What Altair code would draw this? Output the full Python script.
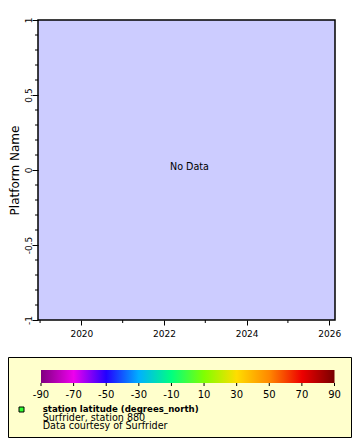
import altair as alt
import pandas as pd

# ---- data ----
x_major = [2020, 2022, 2024, 2026]
x_minor = [2019, 2021, 2023, 2025]
x_domain = [2018.95, 2026.14]
y_major = [-1, -0.5, 0, 0.5, 1]
y_minor = [-0.9, -0.8, -0.7, -0.6, -0.4, -0.3, -0.2, -0.1,
           0.1, 0.2, 0.3, 0.4, 0.6, 0.7, 0.8, 0.9]
y_domain = [-1, 1]
y_title = "Platform Name"
no_data = "No Data"

cbar_stops = [-90, -70, -50, -30, -10, 10, 30, 50, 70, 90]
cbar_colors = ["#800080", "#ee00ee", "#2200ff", "#00b0ff", "#00ff80",
               "#80ff00", "#ffdd00", "#ff8800", "#ee0000", "#780000"]
legend_title = "station latitude (degrees_north)"
legend_lines = ["Surfrider, station 880", "Data courtesy of Surfrider"]

FONT = "DejaVu Sans"
W, H = 297, 300

x_scale = alt.Scale(domain=x_domain, nice=False, zero=False)
y_scale = alt.Scale(domain=y_domain, nice=False, zero=False)

# ---- main plot ----
x_ticks = alt.Chart(pd.DataFrame({"year": x_minor})).mark_rule(color="black", strokeWidth=1).encode(
    x=alt.X("year:Q", scale=x_scale,
            axis=alt.Axis(values=x_major, labelExpr="'' + datum.value", tickSize=5,
                          labelPadding=4, labelFontSize=9, labelFlush=False,
                          labelOverlap=False, title=None, labelBaseline="top")),
    y=alt.value(H), y2=alt.value(H + 3),
)

y_ticks = alt.Chart(pd.DataFrame({"v": y_minor})).mark_rule(color="black", strokeWidth=1).encode(
    y=alt.Y("v:Q", scale=y_scale,
            axis=alt.Axis(values=y_major, labelExpr="'' + datum.value", labelAngle=270,
                          labelAlign="center", labelBaseline="alphabetic", labelPadding=1,
                          tickSize=6, labelFontSize=9, labelFlush=False, labelOverlap=False,
                          title=y_title, titleFontSize=12, titleFontWeight="normal",
                          titleAngle=270, titleX=-19.5, titleY=H / 2, titleAlign="center",
                          titleBaseline="alphabetic")),
    x=alt.value(0), x2=alt.value(-3),
)

nodata = alt.Chart(pd.DataFrame({"t": [no_data]})).mark_text(
    fontSize=9.6, font=FONT, color="black", align="center", baseline="alphabetic"
).encode(text="t:N", x=alt.value(151.5), y=alt.value(149.5))

main = alt.layer(x_ticks, y_ticks, nodata)

# ---- colour-bar legend panel ----
cb_scale = alt.Scale(domain=[cbar_stops[0], cbar_stops[-1]], range=[3, 296.5], nice=False, zero=False)

box = alt.Chart(pd.DataFrame({"a": [0]})).mark_rect(
    fill="#ffffcc", stroke="black", strokeWidth=1
).encode(x=alt.value(-29.5), x2=alt.value(313.5), y=alt.value(337.5), y2=alt.value(417.5))

grad = alt.LinearGradient(
    gradient="linear", x1=0, x2=1, y1=0, y2=0,
    stops=[alt.GradientStop(color=c, offset=(v - cbar_stops[0]) / (cbar_stops[-1] - cbar_stops[0]))
           for v, c in zip(cbar_stops, cbar_colors)],
)
cbar = alt.Chart(pd.DataFrame({"lo": [cbar_stops[0]], "hi": [cbar_stops[-1]]})).mark_rect(
    color=grad
).encode(x=alt.X("lo:Q", scale=cb_scale, axis=None), x2="hi:Q",
         y=alt.value(350), y2=alt.value(363))

stops_df = pd.DataFrame({"v": cbar_stops})
cb_ticks = alt.Chart(stops_df).mark_rule(color="black", strokeWidth=1).encode(
    x=alt.X("v:Q", scale=cb_scale, axis=None), y=alt.value(363), y2=alt.value(366))
cb_labels = alt.Chart(stops_df).transform_calculate(lab="'' + datum.v").mark_text(
    fontSize=10, font=FONT, color="black", align="center", baseline="alphabetic"
).encode(x=alt.X("v:Q", scale=cb_scale, axis=None), y=alt.value(377.5), text="lab:N")

marker = alt.Chart(pd.DataFrame({"a": [0]})).mark_point(
    shape="square", filled=True, fill="#33ff33", stroke="black", strokeWidth=1, size=25, opacity=1
).encode(x=alt.value(-16.5), y=alt.value(389.5))

t_title = alt.Chart(pd.DataFrame({"t": [legend_title]})).mark_text(
    fontSize=8.6, font=FONT, fontWeight="bold", color="black", align="left", baseline="alphabetic"
).encode(text="t:N", x=alt.value(4.7), y=alt.value(391.7))

t_lines = [
    alt.Chart(pd.DataFrame({"t": [s]})).mark_text(
        fontSize=9.6, font=FONT, color="black", align="left", baseline="alphabetic"
    ).encode(text="t:N", x=alt.value(4.7), y=alt.value(yy))
    for s, yy in zip(legend_lines, [400.7, 409.3])
]

panel = alt.layer(box, cbar, cb_ticks, cb_labels, marker, t_title, *t_lines)

chart = alt.layer(main, panel).resolve_scale(x="independent").properties(
    width=W, height=H,
    padding={"left": 30, "top": 12, "right": 17, "bottom": 118},
    autosize=alt.AutoSizeParams(type="none"),
).configure_view(
    fill="#ccccff", stroke="black", strokeWidth=1.5
).configure_axis(
    labelFont=FONT, titleFont=FONT, labelColor="black", titleColor="black",
    tickColor="black", domain=False, grid=False,
).configure_text(font=FONT)

chart.save("out.html", embed_options={"renderer": "svg", "actions": False})
